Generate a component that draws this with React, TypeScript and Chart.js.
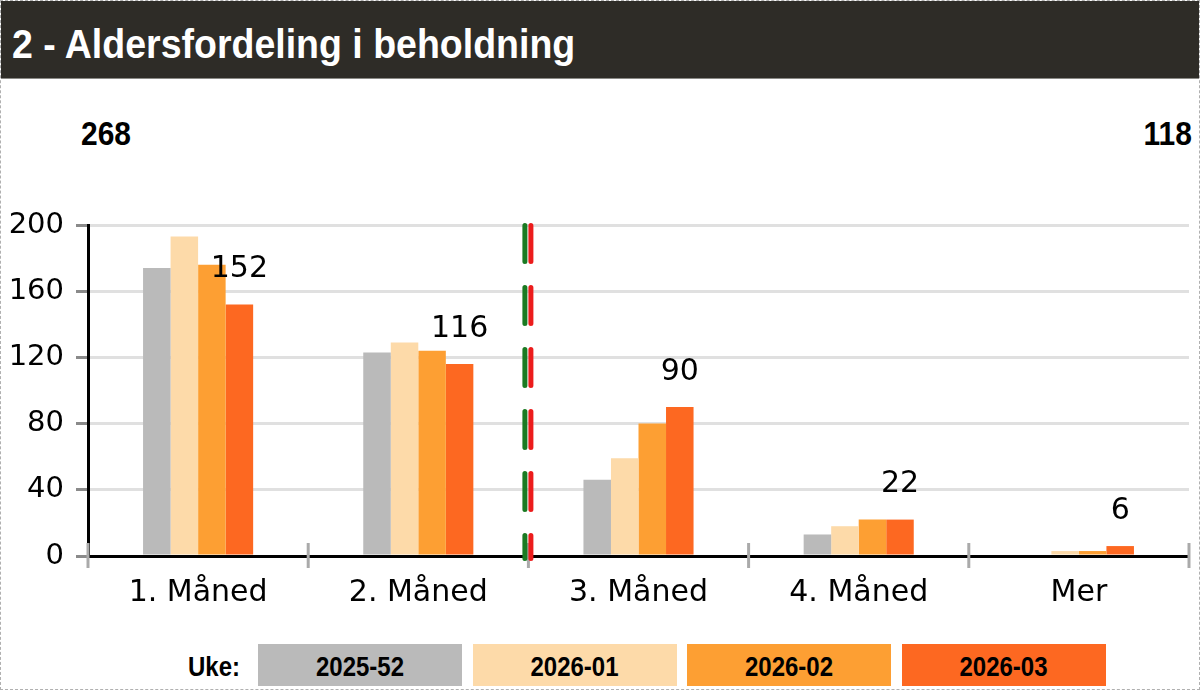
import React, { useEffect, useRef } from 'react';
import { Chart, registerables } from 'chart.js';

Chart.register(...registerables);

const title = '2 - Aldersfordeling i beholdning';
const categories = ['1. Måned', '2. Måned', '3. Måned', '4. Måned', 'Mer'];
const weeks = ['2025-52', '2026-01', '2026-02', '2026-03'];
const week202552 = [174, 123, 46, 13, 0];
const week202601 = [193, 129, 59, 18, 3];
const week202602 = [176, 124, 80, 22, 3];
const week202603 = [152, 116, 90, 22, 6];
const seriesValues = [week202552, week202601, week202602, week202603];
const colors = ['#bababa', '#fddaa9', '#fd9f33', '#fd6821'];
const yMin = 0;
const yMax = 200;
const yStep = 40;
const splitIndex = 2; // dashed separator before this category
const legendLabel = 'Uke:';

const latest = seriesValues[seriesValues.length - 1];
const leftTotal = latest.slice(0, splitIndex).reduce((a, b) => a + b, 0);
const rightTotal = latest.slice(splitIndex).reduce((a, b) => a + b, 0);

const CANVAS_TOP = 150;
const CANVAS_H = 470;

const overlayPlugin = {
  id: 'overlay',
  afterDraw(chart: any) {
    const ctx = chart.ctx;
    const xs = chart.scales.x;
    const ys = chart.scales.y;
    const axisY = ys.getPixelForValue(0);
    ctx.save();
    // category boundary ticks
    ctx.strokeStyle = '#aaaaaa';
    ctx.lineWidth = 3;
    for (let i = 0; i <= categories.length; i++) {
      const x = xs.getPixelForValue(i - 0.5);
      ctx.beginPath();
      ctx.moveTo(x, axisY - 13);
      ctx.lineTo(x, axisY + 12);
      ctx.stroke();
    }
    // dashed separator
    const sx = xs.getPixelForValue(splitIndex - 0.5);
    const top = ys.getPixelForValue(yMax) + 0.5;
    const bottom = axisY + 2.5;
    ctx.lineWidth = 5;
    ctx.lineCap = 'round';
    ctx.setLineDash([36, 26]);
    ctx.strokeStyle = '#1a7a22';
    ctx.beginPath();
    ctx.moveTo(sx - 3.5, top);
    ctx.lineTo(sx - 3.5, bottom);
    ctx.stroke();
    ctx.strokeStyle = '#ec1c1c';
    ctx.beginPath();
    ctx.moveTo(sx + 2.5, top);
    ctx.lineTo(sx + 2.5, bottom);
    ctx.stroke();
    ctx.setLineDash([]);
    // data labels for latest series
    const meta = chart.getDatasetMeta(seriesValues.length - 1);
    ctx.fillStyle = '#000';
    ctx.font = '30px "DejaVu Sans"';
    ctx.textAlign = 'center';
    ctx.textBaseline = 'middle';
    meta.data.forEach((el: any, i: number) => {
      ctx.fillText(String(latest[i]), el.x, el.y - 35);
    });
    ctx.restore();
  },
};

function ChartCanvas() {
  const ref = useRef<HTMLCanvasElement | null>(null);
  useEffect(() => {
    if (!ref.current) return;
    const chart = new Chart(ref.current, {
      type: 'bar',
      data: {
        labels: categories,
        datasets: seriesValues.map((vals, i) => ({
          label: weeks[i],
          data: vals,
          backgroundColor: colors[i],
          borderWidth: 0,
          categoryPercentage: 0.5,
          barPercentage: 1,
        })),
      },
      options: {
        animation: false,
        responsive: false,
        devicePixelRatio: 1,
        layout: { padding: { top: 74, right: 12, bottom: 0, left: 0 } },
        plugins: { legend: { display: false }, tooltip: { enabled: false } },
        scales: {
          x: {
            grid: { display: false },
            border: { display: true, color: '#000', width: 3 },
            ticks: {
              color: '#000',
              font: { family: 'DejaVu Sans', size: 30 },
              padding: 11,
            },
            afterFit: (s: any) => {
              s.height = 65;
            },
          },
          y: {
            min: yMin,
            max: yMax,
            ticks: {
              stepSize: yStep,
              color: '#000',
              font: { family: 'DejaVu Sans', size: 29 },
              padding: 12,
            },
            grid: {
              color: '#e0e0e0',
              lineWidth: 3,
              tickColor: '#8a8a8a',
              tickLength: 12,
              tickWidth: 3,
            },
            border: { display: true, color: '#000', width: 3 },
            afterFit: (s: any) => {
              s.width = 87;
            },
          },
        },
      },
      plugins: [overlayPlugin],
    } as any);
    return () => chart.destroy();
  }, []);
  return (
    <canvas
      ref={ref}
      width={1200}
      height={CANVAS_H}
      style={{ position: 'absolute', left: 0, top: CANVAS_TOP, width: 1200, height: CANVAS_H }}
    />
  );
}

export default function App() {
  const bold = '"Liberation Sans", Arial, sans-serif';
  return (
    <div
      style={{
        position: 'fixed',
        left: 0,
        top: 0,
        width: 1200,
        height: 690,
        boxSizing: 'border-box',
        border: '1px dashed #b0b0b0',
        background: '#fff',
        overflow: 'hidden',
        fontFamily: bold,
      }}
    >
      <div
        style={{
          position: 'absolute',
          left: 0,
          top: 0,
          width: 1200,
          height: 77,
          background: '#2e2c27',
          borderBottom: '1px solid #8a8a86',
        }}
      >
        <div
          style={{
            position: 'absolute',
            left: 11,
            top: 0,
            height: 86,
            lineHeight: '86px',
            color: '#fff',
            fontWeight: 'bold',
            fontSize: 37.5,
            whiteSpace: 'nowrap',
            transform: 'scaleY(1.1)',
            transformOrigin: '0 43px',
          }}
        >
          {title}
        </div>
      </div>
      <div
        style={{
          position: 'absolute',
          left: 80,
          top: 113,
          lineHeight: '40px',
          fontSize: 30,
          fontWeight: 'bold',
          color: '#000',
          transform: 'scaleY(1.08)',
        }}
      >
        {leftTotal}
      </div>
      <div
        style={{
          position: 'absolute',
          right: 7,
          top: 113,
          lineHeight: '40px',
          fontSize: 30,
          fontWeight: 'bold',
          color: '#000',
          transform: 'scaleY(1.08)',
        }}
      >
        {rightTotal}
      </div>
      <ChartCanvas />
      <div
        style={{
          position: 'absolute',
          right: 1200 - 241,
          top: 643,
          height: 42,
          lineHeight: '46px',
          fontSize: 24,
          fontWeight: 'bold',
          color: '#000',
          transform: 'scaleY(1.15)',
        }}
      >
        {legendLabel}
      </div>
      {weeks.map((w, i) => (
        <div
          key={w}
          style={{
            position: 'absolute',
            left: 257 + i * 214.5,
            top: 643,
            width: 204,
            height: 42,
            background: colors[i],
          }}
        >
          <div
            style={{
              width: '100%',
              height: '100%',
              lineHeight: '46px',
              textAlign: 'center',
              fontSize: 24,
              fontWeight: 'bold',
              color: '#000',
              transform: 'scaleY(1.15)',
            }}
          >
            {w}
          </div>
        </div>
      ))}
    </div>
  );
}
